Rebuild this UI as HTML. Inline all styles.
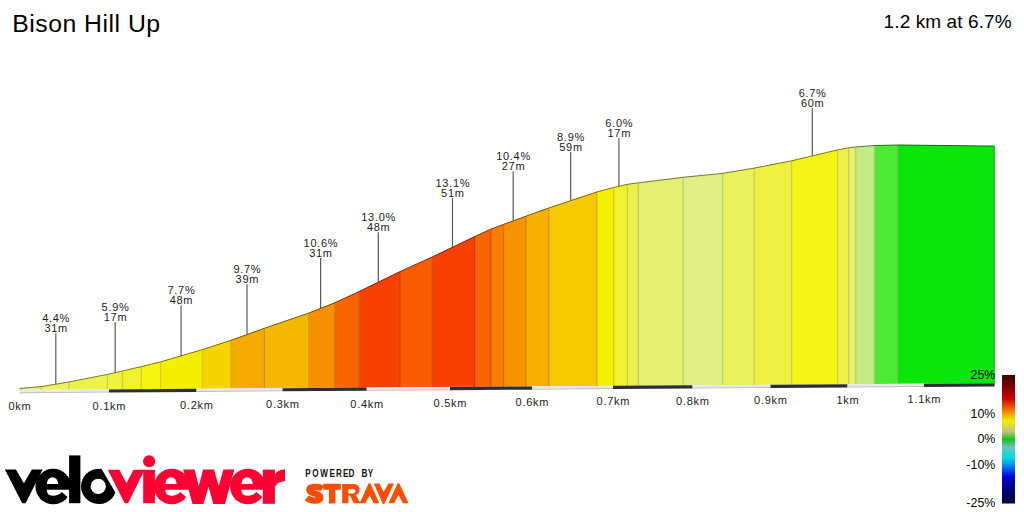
<!DOCTYPE html>
<html><head><meta charset="utf-8"><style>
html,body{margin:0;padding:0;background:#fff;width:1024px;height:512px;overflow:hidden}
svg{position:absolute;left:0;top:0}
text{font-family:"Liberation Sans",sans-serif}
.t{font-size:11px;fill:#1a1a1a;letter-spacing:0.7px}
.lg{font-size:12.4px;fill:#000}
.ttl{font-size:24.8px;fill:#000;letter-spacing:0.5px}
.sub{font-size:19px;fill:#000;letter-spacing:0.1px}
.pw{font-size:10px;font-weight:bold;fill:#111}
</style></head><body>
<svg width="1024" height="512" viewBox="0 0 1024 512">
<text x="12.2" y="31.8" class="ttl">Bison Hill Up</text>
<text x="883.6" y="28" class="sub">1.2 km at 6.7%</text>
<polygon fill="#e0f080" points="19.5,390 19.5,388.4 41.2,386.6 41.2,389.85"/>
<polygon fill="#eaf258" points="41.2,389.85 41.2,386.6 68.9,382 68.9,389.66"/>
<polygon fill="#ecf24a" points="68.9,389.66 68.9,382 107.4,374.4 107.4,389.39"/>
<polygon fill="#eef23a" points="107.4,389.39 107.4,374.4 122.5,371 122.5,389.28"/>
<polygon fill="#f0f22c" points="122.5,389.28 122.5,371 141.3,366.6 141.3,389.15"/>
<polygon fill="#f4f40c" points="141.3,389.15 141.3,366.6 160.6,361.9 160.6,389.02"/>
<polygon fill="#f4ef00" points="160.6,389.02 160.6,361.9 202.4,349.6 202.4,388.72"/>
<polygon fill="#f6d400" points="202.4,388.72 202.4,349.6 230.9,340.3 230.9,388.53"/>
<polygon fill="#f4aa00" points="230.9,388.53 230.9,340.3 264.4,328.3 264.4,388.29"/>
<polygon fill="#f5b800" points="264.4,388.29 264.4,328.3 308.7,313.1 308.7,387.98"/>
<polygon fill="#f79000" points="308.7,387.98 308.7,313.1 334.8,302.8 334.8,387.8"/>
<polygon fill="#f76400" points="334.8,387.8 334.8,302.8 359.2,291.5 359.2,387.63"/>
<polygon fill="#f84000" points="359.2,387.63 359.2,291.5 399.8,271.7 399.8,387.35"/>
<polygon fill="#f85c00" points="399.8,387.35 399.8,271.7 432.3,256.9 432.3,387.12"/>
<polygon fill="#f84000" points="432.3,387.12 432.3,256.9 474.5,236.7 474.5,386.83"/>
<polygon fill="#f76400" points="474.5,386.83 474.5,236.7 490.7,229.2 490.7,386.71"/>
<polygon fill="#f77e00" points="490.7,386.71 490.7,229.2 503.5,224.4 503.5,386.62"/>
<polygon fill="#f79200" points="503.5,386.62 503.5,224.4 525.9,216.2 525.9,386.47"/>
<polygon fill="#f6b000" points="525.9,386.47 525.9,216.2 548.7,208 548.7,386.31"/>
<polygon fill="#f6c800" points="548.7,386.31 548.7,208 596.7,192 596.7,385.97"/>
<polygon fill="#f5ef00" points="596.7,385.97 596.7,192 613.7,187.5 613.7,385.86"/>
<polygon fill="#f0f22e" points="613.7,385.86 613.7,187.5 627.4,184.3 627.4,385.76"/>
<polygon fill="#e8f050" points="627.4,385.76 627.4,184.3 638.3,182.8 638.3,385.68"/>
<polygon fill="#e4ee70" points="638.3,385.68 638.3,182.8 683.1,177.3 683.1,385.37"/>
<polygon fill="#e0ee88" points="683.1,385.37 683.1,177.3 722.5,173.4 722.5,385.1"/>
<polygon fill="#e8f05a" points="722.5,385.1 722.5,173.4 754.3,168.1 754.3,384.88"/>
<polygon fill="#eef040" points="754.3,384.88 754.3,168.1 791.6,160.8 791.6,384.62"/>
<polygon fill="#f2f418" points="791.6,384.62 791.6,160.8 837.6,149.9 837.6,384.29"/>
<polygon fill="#eef048" points="837.6,384.29 837.6,149.9 848.6,147.8 848.6,384.22"/>
<polygon fill="#e6ee70" points="848.6,384.22 848.6,147.8 855.7,147 855.7,384.17"/>
<polygon fill="#c2ec84" points="855.7,384.17 855.7,147 874.4,145.5 874.4,384.04"/>
<polygon fill="#4ce836" points="874.4,384.04 874.4,145.5 898.4,145 898.4,383.87"/>
<polygon fill="#0ae60a" points="898.4,383.87 898.4,145 994.6,146.1 994.6,383.2"/>
<path d="M41.2 386.6V389.85" stroke="#c0ce6e" stroke-width="1.3" fill="none"/>
<path d="M68.9 382V389.66" stroke="#c9d04b" stroke-width="1.3" fill="none"/>
<path d="M107.4 374.4V389.39" stroke="#cad03f" stroke-width="1.3" fill="none"/>
<path d="M122.5 371V389.28" stroke="#ccd031" stroke-width="1.3" fill="none"/>
<path d="M141.3 366.6V389.15" stroke="#ced025" stroke-width="1.3" fill="none"/>
<path d="M160.6 361.9V389.02" stroke="#d1d10a" stroke-width="1.3" fill="none"/>
<path d="M202.4 349.6V388.72" stroke="#d1cd00" stroke-width="1.3" fill="none"/>
<path d="M230.9 340.3V388.53" stroke="#d3b600" stroke-width="1.3" fill="none"/>
<path d="M264.4 328.3V388.29" stroke="#d19200" stroke-width="1.3" fill="none"/>
<path d="M308.7 313.1V387.98" stroke="#d29e00" stroke-width="1.3" fill="none"/>
<path d="M334.8 302.8V387.8" stroke="#d47b00" stroke-width="1.3" fill="none"/>
<path d="M359.2 291.5V387.63" stroke="#d45600" stroke-width="1.3" fill="none"/>
<path d="M399.8 271.7V387.35" stroke="#d53700" stroke-width="1.3" fill="none"/>
<path d="M432.3 256.9V387.12" stroke="#d54f00" stroke-width="1.3" fill="none"/>
<path d="M474.5 236.7V386.83" stroke="#d53700" stroke-width="1.3" fill="none"/>
<path d="M490.7 229.2V386.71" stroke="#d45600" stroke-width="1.3" fill="none"/>
<path d="M503.5 224.4V386.62" stroke="#d46c00" stroke-width="1.3" fill="none"/>
<path d="M525.9 216.2V386.47" stroke="#d47d00" stroke-width="1.3" fill="none"/>
<path d="M548.7 208V386.31" stroke="#d39700" stroke-width="1.3" fill="none"/>
<path d="M596.7 192V385.97" stroke="#d3ac00" stroke-width="1.3" fill="none"/>
<path d="M613.7 187.5V385.86" stroke="#d2cd00" stroke-width="1.3" fill="none"/>
<path d="M627.4 184.3V385.76" stroke="#ced027" stroke-width="1.3" fill="none"/>
<path d="M638.3 182.8V385.68" stroke="#c7ce44" stroke-width="1.3" fill="none"/>
<path d="M683.1 177.3V385.37" stroke="#c4cc60" stroke-width="1.3" fill="none"/>
<path d="M722.5 173.4V385.1" stroke="#c0cc74" stroke-width="1.3" fill="none"/>
<path d="M754.3 168.1V384.88" stroke="#c7ce4d" stroke-width="1.3" fill="none"/>
<path d="M791.6 160.8V384.62" stroke="#ccce37" stroke-width="1.3" fill="none"/>
<path d="M837.6 149.9V384.29" stroke="#d0d114" stroke-width="1.3" fill="none"/>
<path d="M848.6 147.8V384.22" stroke="#ccce3d" stroke-width="1.3" fill="none"/>
<path d="M855.7 147V384.17" stroke="#c5cc60" stroke-width="1.3" fill="none"/>
<path d="M874.4 145.5V384.04" stroke="#a6ca71" stroke-width="1.3" fill="none"/>
<path d="M898.4 145V383.87" stroke="#41c72e" stroke-width="1.3" fill="none"/>
<path d="M994.1 146.1V383.2" stroke="#08b808" stroke-width="1" fill="none"/>
<path d="M19.5 388.4L41.2 386.6" stroke="#707840" stroke-width="1" fill="none"/>
<path d="M41.2 386.6L68.9 382" stroke="#75792c" stroke-width="1" fill="none"/>
<path d="M68.9 382L107.4 374.4" stroke="#767925" stroke-width="1" fill="none"/>
<path d="M107.4 374.4L122.5 371" stroke="#77791d" stroke-width="1" fill="none"/>
<path d="M122.5 371L141.3 366.6" stroke="#787916" stroke-width="1" fill="none"/>
<path d="M141.3 366.6L160.6 361.9" stroke="#7a7a06" stroke-width="1" fill="none"/>
<path d="M160.6 361.9L202.4 349.6" stroke="#7a7700" stroke-width="1" fill="none"/>
<path d="M202.4 349.6L230.9 340.3" stroke="#7b6a00" stroke-width="1" fill="none"/>
<path d="M230.9 340.3L264.4 328.3" stroke="#7a5500" stroke-width="1" fill="none"/>
<path d="M264.4 328.3L308.7 313.1" stroke="#7a5c00" stroke-width="1" fill="none"/>
<path d="M308.7 313.1L334.8 302.8" stroke="#7b4800" stroke-width="1" fill="none"/>
<path d="M334.8 302.8L359.2 291.5" stroke="#7b3200" stroke-width="1" fill="none"/>
<path d="M359.2 291.5L399.8 271.7" stroke="#7c2000" stroke-width="1" fill="none"/>
<path d="M399.8 271.7L432.3 256.9" stroke="#7c2e00" stroke-width="1" fill="none"/>
<path d="M432.3 256.9L474.5 236.7" stroke="#7c2000" stroke-width="1" fill="none"/>
<path d="M474.5 236.7L490.7 229.2" stroke="#7b3200" stroke-width="1" fill="none"/>
<path d="M490.7 229.2L503.5 224.4" stroke="#7b3f00" stroke-width="1" fill="none"/>
<path d="M503.5 224.4L525.9 216.2" stroke="#7b4900" stroke-width="1" fill="none"/>
<path d="M525.9 216.2L548.7 208" stroke="#7b5800" stroke-width="1" fill="none"/>
<path d="M548.7 208L596.7 192" stroke="#7b6400" stroke-width="1" fill="none"/>
<path d="M596.7 192L613.7 187.5" stroke="#7a7700" stroke-width="1" fill="none"/>
<path d="M613.7 187.5L627.4 184.3" stroke="#787917" stroke-width="1" fill="none"/>
<path d="M627.4 184.3L638.3 182.8" stroke="#747828" stroke-width="1" fill="none"/>
<path d="M638.3 182.8L683.1 177.3" stroke="#727738" stroke-width="1" fill="none"/>
<path d="M683.1 177.3L722.5 173.4" stroke="#707744" stroke-width="1" fill="none"/>
<path d="M722.5 173.4L754.3 168.1" stroke="#74782d" stroke-width="1" fill="none"/>
<path d="M754.3 168.1L791.6 160.8" stroke="#777820" stroke-width="1" fill="none"/>
<path d="M791.6 160.8L837.6 149.9" stroke="#797a0c" stroke-width="1" fill="none"/>
<path d="M837.6 149.9L848.6 147.8" stroke="#777824" stroke-width="1" fill="none"/>
<path d="M848.6 147.8L855.7 147" stroke="#737738" stroke-width="1" fill="none"/>
<path d="M855.7 147L874.4 145.5" stroke="#617642" stroke-width="1" fill="none"/>
<path d="M874.4 145.5L898.4 145" stroke="#26741b" stroke-width="1" fill="none"/>
<path d="M898.4 145L994.6 146.1" stroke="#057305" stroke-width="1" fill="none"/>
<polygon fill="#e8e8e8" points="19.5,390 109,389.38 109,391.58 19.5,392.2"/>
<polygon fill="#bdbdbd" points="19.5,392.2 109,391.58 109,392.58 19.5,393.2"/>
<polygon fill="#2d2d33" points="109,389.38 196.5,388.77 196.5,391.97 109,392.58"/>
<polygon fill="#e8e8e8" points="196.5,388.77 282.5,388.17 282.5,390.37 196.5,390.97"/>
<polygon fill="#bdbdbd" points="196.5,390.97 282.5,390.37 282.5,391.37 196.5,391.97"/>
<polygon fill="#2d2d33" points="282.5,388.17 366.75,387.58 366.75,390.78 282.5,391.37"/>
<polygon fill="#e8e8e8" points="366.75,387.58 450,387 450,389.2 366.75,389.78"/>
<polygon fill="#bdbdbd" points="366.75,389.78 450,389.2 450,390.2 366.75,390.78"/>
<polygon fill="#2d2d33" points="450,387 532,386.43 532,389.63 450,390.2"/>
<polygon fill="#e8e8e8" points="532,386.43 613,385.86 613,388.06 532,388.63"/>
<polygon fill="#bdbdbd" points="532,388.63 613,388.06 613,389.06 532,389.63"/>
<polygon fill="#2d2d33" points="613,385.86 692.5,385.31 692.5,388.51 613,389.06"/>
<polygon fill="#e8e8e8" points="692.5,385.31 770.5,384.76 770.5,386.96 692.5,387.51"/>
<polygon fill="#bdbdbd" points="692.5,387.51 770.5,386.96 770.5,387.96 692.5,388.51"/>
<polygon fill="#2d2d33" points="770.5,384.76 847.5,384.23 847.5,387.43 770.5,387.96"/>
<polygon fill="#e8e8e8" points="847.5,384.23 924,383.69 924,385.89 847.5,386.43"/>
<polygon fill="#bdbdbd" points="847.5,386.43 924,385.89 924,386.89 847.5,387.43"/>
<polygon fill="#2d2d33" points="924,383.69 994.6,383.2 994.6,386.4 924,386.89"/>
<text x="19.85" y="410.4" class="t" text-anchor="middle">0km</text>
<text x="109.35" y="409.66" class="t" text-anchor="middle">0.1km</text>
<text x="196.85" y="408.93" class="t" text-anchor="middle">0.2km</text>
<text x="282.85" y="408.22" class="t" text-anchor="middle">0.3km</text>
<text x="367.1" y="407.52" class="t" text-anchor="middle">0.4km</text>
<text x="450.35" y="406.83" class="t" text-anchor="middle">0.5km</text>
<text x="532.35" y="406.15" class="t" text-anchor="middle">0.6km</text>
<text x="613.35" y="405.47" class="t" text-anchor="middle">0.7km</text>
<text x="692.85" y="404.81" class="t" text-anchor="middle">0.8km</text>
<text x="770.85" y="404.17" class="t" text-anchor="middle">0.9km</text>
<text x="847.85" y="403.53" class="t" text-anchor="middle">1km</text>
<text x="924.35" y="402.89" class="t" text-anchor="middle">1.1km</text>
<line x1="55.8" y1="333.2" x2="55.8" y2="384.18" stroke="#5a5a5a" stroke-width="1.2"/>
<text x="56.15" y="322" class="t" text-anchor="middle">4.4%</text>
<text x="56.15" y="332" class="t" text-anchor="middle">31m</text>
<line x1="115.2" y1="322.1" x2="115.2" y2="372.64" stroke="#5a5a5a" stroke-width="1.2"/>
<text x="115.55" y="310.9" class="t" text-anchor="middle">5.9%</text>
<text x="115.55" y="320.9" class="t" text-anchor="middle">17m</text>
<line x1="181.1" y1="305.3" x2="181.1" y2="355.87" stroke="#5a5a5a" stroke-width="1.2"/>
<text x="181.45" y="294.1" class="t" text-anchor="middle">7.7%</text>
<text x="181.45" y="304.1" class="t" text-anchor="middle">48m</text>
<line x1="247" y1="284.2" x2="247" y2="334.53" stroke="#5a5a5a" stroke-width="1.2"/>
<text x="247.35" y="273" class="t" text-anchor="middle">9.7%</text>
<text x="247.35" y="283" class="t" text-anchor="middle">39m</text>
<line x1="320.6" y1="258.1" x2="320.6" y2="308.4" stroke="#5a5a5a" stroke-width="1.2"/>
<text x="320.95" y="246.9" class="t" text-anchor="middle">10.6%</text>
<text x="320.95" y="256.9" class="t" text-anchor="middle">31m</text>
<line x1="378.3" y1="232.2" x2="378.3" y2="282.19" stroke="#5a5a5a" stroke-width="1.2"/>
<text x="378.65" y="221" class="t" text-anchor="middle">13.0%</text>
<text x="378.65" y="231" class="t" text-anchor="middle">48m</text>
<line x1="452.5" y1="198.1" x2="452.5" y2="247.23" stroke="#5a5a5a" stroke-width="1.2"/>
<text x="452.85" y="186.9" class="t" text-anchor="middle">13.1%</text>
<text x="452.85" y="196.9" class="t" text-anchor="middle">51m</text>
<line x1="513.2" y1="171.2" x2="513.2" y2="220.85" stroke="#5a5a5a" stroke-width="1.2"/>
<text x="513.55" y="160" class="t" text-anchor="middle">10.4%</text>
<text x="513.55" y="170" class="t" text-anchor="middle">27m</text>
<line x1="570.7" y1="151.9" x2="570.7" y2="200.67" stroke="#5a5a5a" stroke-width="1.2"/>
<text x="571.05" y="140.7" class="t" text-anchor="middle">8.9%</text>
<text x="571.05" y="150.7" class="t" text-anchor="middle">59m</text>
<line x1="618.9" y1="137.9" x2="618.9" y2="186.29" stroke="#5a5a5a" stroke-width="1.2"/>
<text x="619.25" y="126.7" class="t" text-anchor="middle">6.0%</text>
<text x="619.25" y="136.7" class="t" text-anchor="middle">17m</text>
<line x1="812.3" y1="108.1" x2="812.3" y2="155.9" stroke="#5a5a5a" stroke-width="1.2"/>
<text x="812.65" y="96.9" class="t" text-anchor="middle">6.7%</text>
<text x="812.65" y="106.9" class="t" text-anchor="middle">60m</text>
<defs><linearGradient id="lg" x1="0" y1="0" x2="0" y2="1">
<stop offset="0" stop-color="#3a0000"/>
<stop offset="0.09" stop-color="#800000"/>
<stop offset="0.185" stop-color="#d40000"/>
<stop offset="0.27" stop-color="#f07000"/>
<stop offset="0.355" stop-color="#f0ee00"/>
<stop offset="0.44" stop-color="#c8c080"/>
<stop offset="0.5" stop-color="#10c810"/>
<stop offset="0.56" stop-color="#70c0c0"/>
<stop offset="0.64" stop-color="#00e0e0"/>
<stop offset="0.71" stop-color="#0080f0"/>
<stop offset="0.79" stop-color="#0000e0"/>
<stop offset="0.89" stop-color="#000080"/>
<stop offset="1" stop-color="#000040"/>
</linearGradient></defs>
<rect x="1002" y="375" width="13" height="128.5" fill="url(#lg)"/>
<text x="995.3" y="379.1" class="lg" text-anchor="end">25%</text>
<text x="995.3" y="418.1" class="lg" text-anchor="end">10%</text>
<text x="995.3" y="443.2" class="lg" text-anchor="end">0%</text>
<text x="995.3" y="469.1" class="lg" text-anchor="end">-10%</text>
<text x="995.3" y="507" class="lg" text-anchor="end">-25%</text>
<polygon fill="#000" points="4.9,469.4 15.9,469.4 23.9,483.3 31.9,469.4 42.6,469.4 25.6,503.2 22.2,503.2"/>
<circle cx="53.25" cy="486.55" r="17.80" fill="#000"/>
<path d="M46.80 484 A5.7 6.7 0 0 1 58.20 484 Z" fill="#fff"/>
<path d="M46.80 489.8 L73.00 489.8 L73.00 501.6 L61.70 492 Q58.50 495.9 52.60 495.8 Q46.80 495.7 46.80 489.8 Z" fill="#fff"/>
<rect x="69.1" y="455.4" width="11.3" height="47.8" fill="#000"/>
<path d="M101.6 468.9 L115.4 492.4 A17.7 17.7 0 1 1 101.6 468.9 Z" fill="#000"/>
<circle cx="98.25" cy="486.4" r="7.7" fill="#fff"/>
<polygon fill="#ff0033" points="107.8,469.8 119.3,469.8 126.4,483.2 133.5,469.8 144.5,469.8 128.1,503.2 124.7,503.2"/>
<rect x="143.2" y="469.8" width="11.7" height="33.4" fill="#ff0033"/>
<circle cx="149.1" cy="461.3" r="6" fill="#ff0033"/>
<circle cx="171.75" cy="486.55" r="17.80" fill="#ff0033"/>
<path d="M165.30 484 A5.7 6.7 0 0 1 176.70 484 Z" fill="#fff"/>
<path d="M165.30 489.8 L191.50 489.8 L191.50 501.6 L180.20 492 Q177.00 495.9 171.10 495.8 Q165.30 495.7 165.30 489.8 Z" fill="#fff"/>
<polygon fill="#ff0033" points="183.2,469.5 194.5,469.5 198.8,485.9 203.1,469.5 214,469.5 218.7,485.9 223.4,469.5 234.3,469.5 225,503.9 213.3,503.9 208.6,486.7 203.5,503.9 192.5,503.9"/>
<circle cx="247.85" cy="486.55" r="17.80" fill="#ff0033"/>
<path d="M241.40 484 A5.7 6.7 0 0 1 252.80 484 Z" fill="#fff"/>
<path d="M241.40 489.8 L267.60 489.8 L267.60 501.6 L256.30 492 Q253.10 495.9 247.20 495.8 Q241.40 495.7 241.40 489.8 Z" fill="#fff"/>
<rect x="262.8" y="469.6" width="12.1" height="34.2" fill="#ff0033"/>
<path d="M274.4 488.5 Q276.5 481.3 285 481.3 L285 469.2 Q277 469.2 274.4 475.8 Z" fill="#ff0033"/><text transform="scale(0.82,1)" x="372.20 380.91 390.54 401.95 409.86 418.17 425.12 434.15 440.98 448.60" y="476.6" class="pw">POWERED BY</text>
<path d="M322.3 488.6 C319.8 486.8 317.3 486.8 314.7 486.8 C311.2 486.8 309.4 488 309.4 489.8 C309.4 491.9 311.6 492.8 314.6 493.5 C318.1 494.2 320.4 495.4 320.4 497.4 C320.4 499.6 318 500.6 314.5 500.6 C311.5 500.6 309 499.8 306.8 497.9" fill="none" stroke="#fc4c02" stroke-width="6.3"/>
<path d="M323.3 483.8 H340.8 V489.8 H335.4 V503.4 H329 V489.8 H323.3 Z" fill="#fc4c02"/>
<path fill-rule="evenodd" d="M342.2 483.9 H353 C357.5 483.9 359.7 486.5 359.7 489.4 C359.7 492.2 358.2 494 355.9 494.9 L360.6 503.2 H353.8 L349.9 495.6 H348.4 V503.2 H342.2 Z M348.4 489 H352.8 C354.6 489 355.4 489.9 355.4 491.2 C355.4 492.5 354.6 493.4 352.8 493.4 H348.4 Z" fill="#fc4c02"/>
<polygon fill="#fc4c02" points="368.7,483.2 370.3,483.2 379.4,503.2 373.8,503.2 369.5,495.5 365.3,503.2 359.7,503.2"/>
<polygon fill="#fc4c02" points="373.8,483.5 379.4,483.5 383.6,492 388.5,483.5 394,483.5 384.4,503.9 382.8,503.9"/>
<polygon fill="#fc4c02" points="397.6,483.2 399.2,483.2 408.6,503.2 403,503.2 398.4,495.1 394.1,503.2 388.5,503.2"/>
</svg>
</body></html>
